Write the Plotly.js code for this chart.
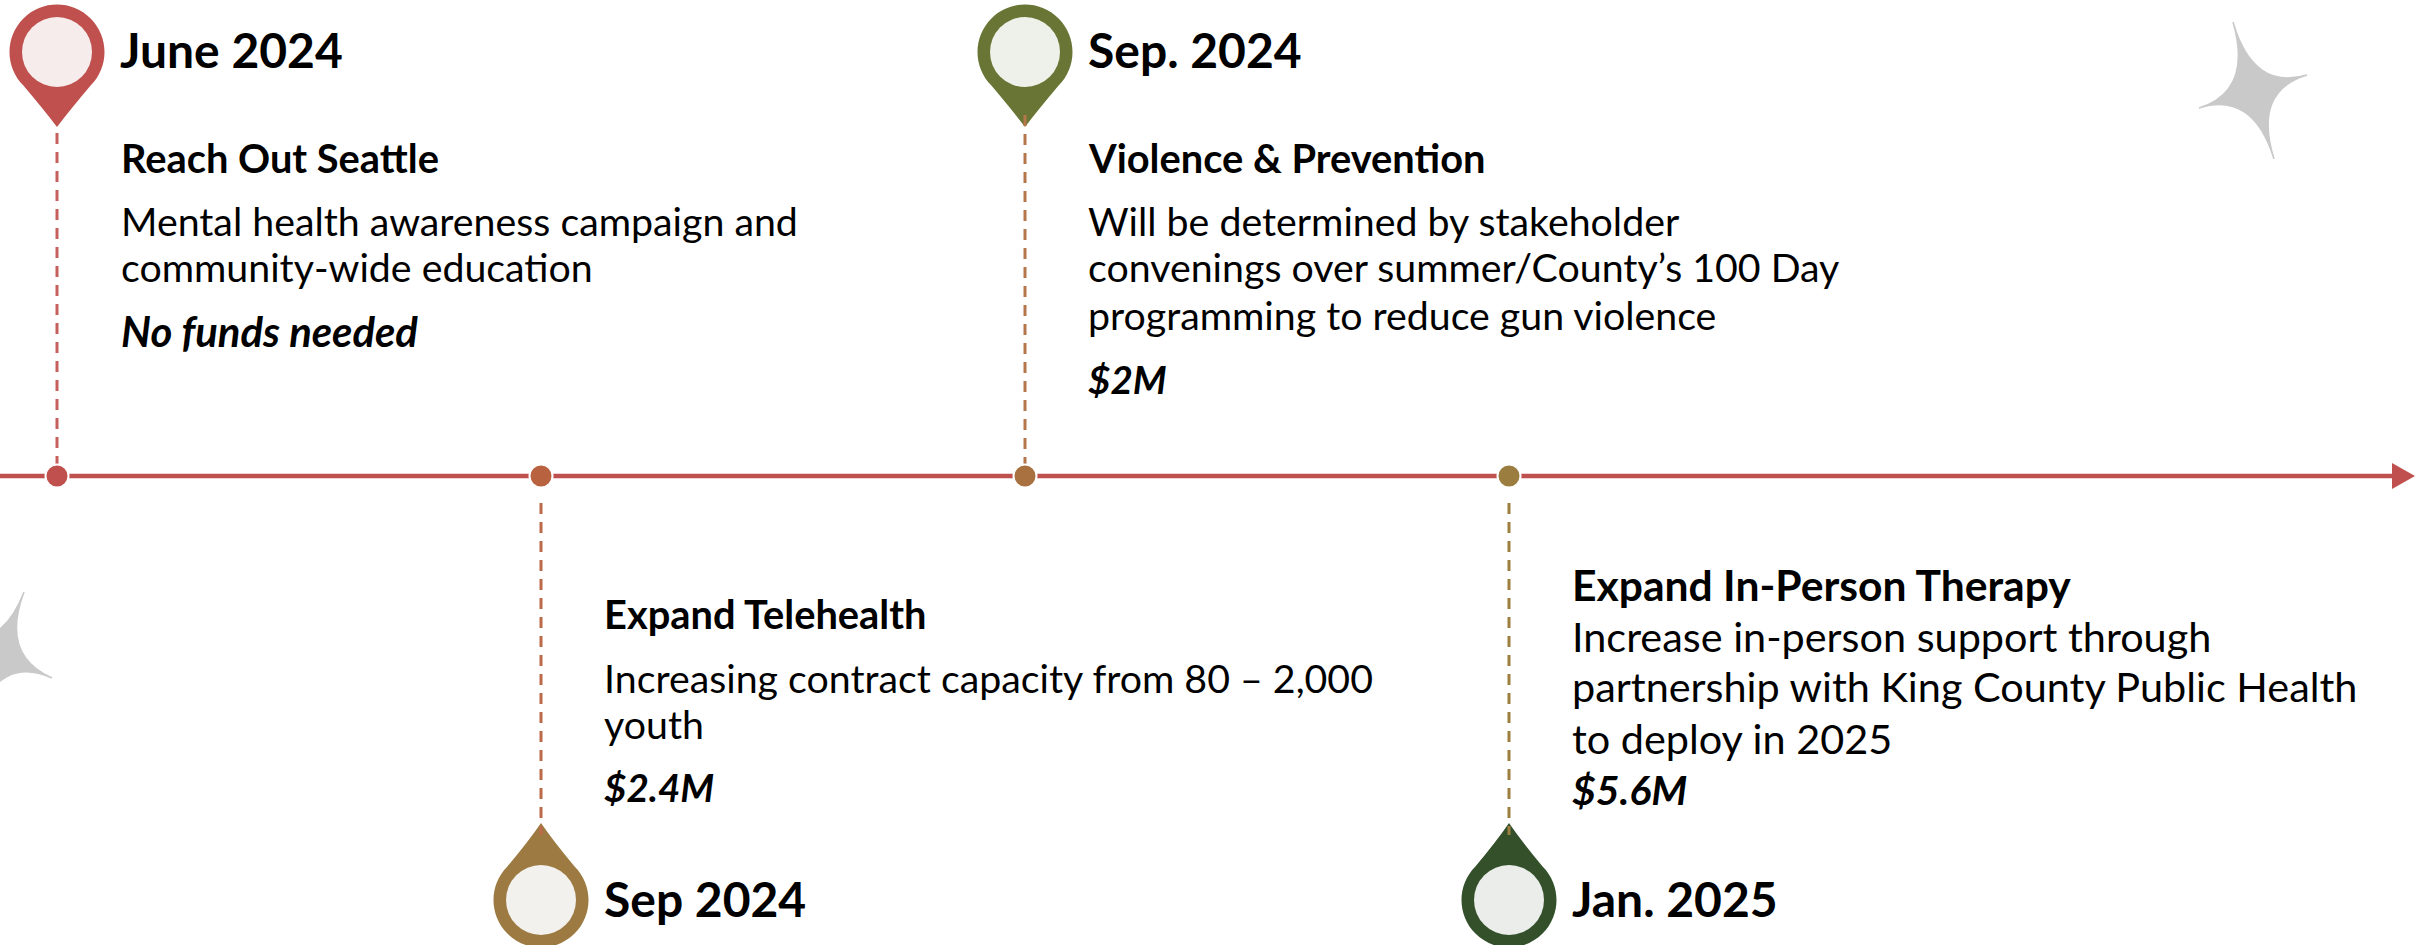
<!DOCTYPE html>
<html>
<head>
<meta charset="utf-8">
<script src="https://cdn.plot.ly/plotly-3.0.1.min.js"></script>
<style>html,body{margin:0;padding:0;background:#fff;overflow:hidden}</style>
</head>
<body>
<div id="chart" style="width:2415px;height:945px"></div>
<script>
// Timeline milestones: position along the line, pin direction and palette
const milestoneX = [57, 541, 1025, 1509];
const pinAbove = [true, false, true, false];
const pinColors = ['#c0504d', '#9c7a41', '#687534', '#33502b'];
const pinFaces = ['#f6ecec', '#f3f1ed', '#eef1ea', '#ebedea'];
const dotColors = ['#c0504d', '#b8623f', '#a9713f', '#9a7d3f'];
const dashColors = ['#c6605c', '#bc6a4a', '#b5764a', '#9c7f3f'];

// Text blocks, one entry per drawn line
const lineText = [
  'June 2024', 'Reach Out Seattle', 'Mental health awareness campaign and', 'community-wide education', 'No funds needed',
  'Sep 2024', 'Expand Telehealth', 'Increasing contract capacity from 80 – 2,000', 'youth', '$2.4M',
  'Sep. 2024', 'Violence & Prevention', 'Will be determined by stakeholder', 'convenings over summer/County’s 100 Day', 'programming to reduce gun violence', '$2M',
  'Jan. 2025', 'Expand In-Person Therapy', 'Increase in-person support through', 'partnership with King County Public Health', 'to deploy in 2025', '$5.6M'
];
const lineX = [
  120, 121, 121, 121, 121,
  604, 604, 604, 604, 604,
  1088, 1088, 1088, 1088, 1088, 1088,
  1572, 1572, 1572, 1572, 1572, 1572
];
const lineY = [
  49, 157, 220.5, 266.5, 331,
  898, 613, 677.5, 723.5, 787,
  49, 157, 220.5, 266.5, 314.5, 379,
  898, 584, 635.5, 685.5, 737.5, 789
];
const lineKind = [
  'date', 'head', 'body', 'body', 'note',
  'date', 'head', 'body', 'body', 'cost',
  'date', 'head', 'body', 'body', 'body', 'cost',
  'date', 'headWide', 'bodyWide', 'bodyWide', 'bodyWide', 'costWide'
];
const kindFont = {
  date:     {size: 48, weight: 700, style: 'normal'},
  head:     {size: 39.8, weight: 700, style: 'normal'},
  headWide: {size: 42.6, weight: 700, style: 'normal'},
  body:     {size: 39.3, weight: 400, style: 'normal'},
  bodyWide: {size: 41.4, weight: 400, style: 'normal'},
  note:     {size: 41.8, weight: 700, style: 'italic'},
  cost:     {size: 38.6, weight: 700, style: 'italic'},
  costWide: {size: 41, weight: 700, style: 'italic'}
};

// Axis line and decorative sparkles
const axisY = 476;
const axisStart = 0;
const arrowBase = 2392;
const arrowTip = 2415;
const sparkles = [
  {tips: [[2233, 22], [2307, 75], [2274, 159], [2199, 108]], hub: [2253, 91]},
  {tips: [[24, 592], [52, 678], [-24, 718], [-52, 632]], hub: [0, 655]}
];

// Teardrop outline: a 270 degree arc around the head, tapering to the tip
function pinPath(cx, cy, r, tipY) {
  const s = tipY > cy ? 1 : -1;
  const a = r * Math.SQRT1_2, k = 0.5523 * r;
  const kx = k * Math.SQRT1_2;
  const f = v => v.toFixed(2);
  const P = (x, y) => f(cx + x) + ',' + f(cy + s * y);
  return 'M' + P(0, tipY * s - cy * s) +
    ' Q' + P(-13, 58) + ' ' + P(-a, a) +
    ' C' + P(-a - kx, a - kx) + ' ' + P(-a - kx, -a + kx) + ' ' + P(-a, -a) +
    ' C' + P(-a + kx, -a - kx) + ' ' + P(a - kx, -a - kx) + ' ' + P(a, -a) +
    ' C' + P(a + kx, -a + kx) + ' ' + P(a + kx, a - kx) + ' ' + P(a, a) +
    ' Q' + P(13, 58) + ' ' + P(0, tipY * s - cy * s) + ' Z';
}

function sparklePath(st) {
  const [hx, hy] = st.hub;
  let d = 'M' + st.tips[0].join(',');
  for (let i = 1; i <= 4; i++) {
    d += ' Q' + hx + ',' + hy + ' ' + st.tips[i % 4].join(',');
  }
  return d + ' Z';
}

const shapes = [];
const traces = [];

sparkles.forEach(st => shapes.push({
  type: 'path', path: sparklePath(st), fillcolor: '#c9c9c9', line: {color: '#c9c9c9', width: 1.5}, layer: 'below'
}));

milestoneX.forEach((x, i) => {
  const above = pinAbove[i];
  const cy = above ? 52 : 900;
  const tip = above ? 127 : 823;
  shapes.push({type: 'path', path: pinPath(x, cy, 47.5, tip), fillcolor: pinColors[i], line: {width: 0}, layer: 'below'});
  shapes.push({type: 'circle', x0: x - 35, x1: x + 35, y0: cy - 35, y1: cy + 35, fillcolor: pinFaces[i], line: {width: 0}, layer: 'below'});
  // stems: the first pin's stem stays clear of its head, the others overlap the tip
  const stemStart = i === 0 ? 133 : (above ? 115 : 503);
  const stemEnd = above ? 470 : 835;
  traces.push({
    x: [x, x], y: [stemStart, stemEnd], mode: 'lines', hoverinfo: 'skip',
    line: {color: dashColors[i], width: 3, dash: '11px,8px'}
  });
});

traces.push({
  x: [axisStart, arrowBase], y: [axisY, axisY], mode: 'lines', hoverinfo: 'skip',
  line: {color: '#c0504d', width: 4.5}
});
shapes.push({
  type: 'path',
  path: `M${arrowBase},${axisY - 13} L${arrowTip},${axisY} L${arrowBase},${axisY + 13} Z`,
  fillcolor: '#c0504d', line: {width: 0}, layer: 'above'
});
traces.push({
  x: milestoneX, y: milestoneX.map(() => axisY), mode: 'markers', hoverinfo: 'skip',
  marker: {size: 23, color: dotColors, line: {color: '#ffffff', width: 2}}
});

const annotations = lineText.map((t, i) => {
  const k = kindFont[lineKind[i]];
  return {
    text: t, x: lineX[i], y: lineY[i], xref: 'x', yref: 'y',
    xanchor: 'left', yanchor: 'middle', showarrow: false, align: 'left',
    borderpad: 0, borderwidth: 0,
    font: {family: 'Lato, sans-serif', color: '#000000', size: k.size, weight: k.weight, style: k.style}
  };
});

Plotly.newPlot('chart', traces, {
  width: 2415, height: 945,
  margin: {l: 0, r: 0, t: 0, b: 0, pad: 0},
  paper_bgcolor: '#ffffff', plot_bgcolor: '#ffffff',
  showlegend: false,
  xaxis: {range: [0, 2415], visible: false, fixedrange: true},
  yaxis: {range: [945, 0], visible: false, fixedrange: true},
  shapes, annotations
}, {displayModeBar: false, staticPlot: true});
</script>
</body>
</html>
